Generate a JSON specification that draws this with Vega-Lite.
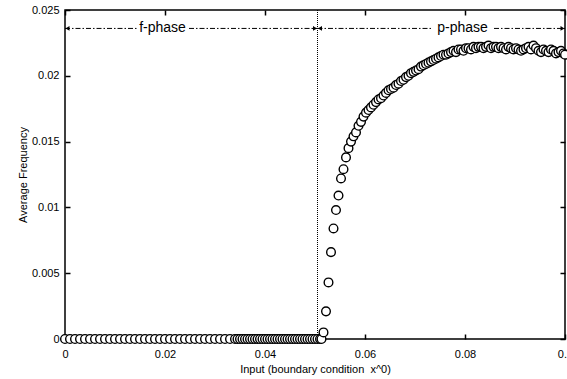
{
  "$schema": "https://vega.github.io/schema/vega-lite/v6.json",
  "width": 500,
  "height": 329,
  "autosize": {"type": "none"},
  "padding": {"left": 65, "top": 10, "right": 2, "bottom": 40},
  "background": "white",
  "config": {
    "font": "Liberation Sans",
    "view": {"stroke": "black", "strokeWidth": 1.5},
    "axis": {"grid": false, "domain": false, "offset": -5, "tickSize": 5, "labelFlush": false, "labelOverlap": false, "tickColor": "black", "tickWidth": 1.5, "labelColor": "black", "titleColor": "black", "labelFontSize": 11, "titleFontSize": 11, "titleFontWeight": "normal", "labelFont": "Liberation Sans", "titleFont": "Liberation Sans"}
  },
  "datasets": {
    "pts": [
      {"x":0,"y":0},{"x":0.001,"y":0},{"x":0.002,"y":0},{"x":0.003,"y":0},{"x":0.004,"y":0},{"x":0.005,"y":0},{"x":0.006,"y":0},{"x":0.007,"y":0},{"x":0.008,"y":0},{"x":0.009,"y":0},
      {"x":0.01,"y":0},{"x":0.011,"y":0},{"x":0.012,"y":0},{"x":0.013,"y":0},{"x":0.014,"y":0},{"x":0.015,"y":0},{"x":0.016,"y":0},{"x":0.017,"y":0},{"x":0.018,"y":0},{"x":0.019,"y":0},
      {"x":0.02,"y":0},{"x":0.021,"y":0},{"x":0.022,"y":0},{"x":0.023,"y":0},{"x":0.024,"y":0},{"x":0.025,"y":0},{"x":0.026,"y":0},{"x":0.027,"y":0},{"x":0.028,"y":0},{"x":0.029,"y":0},
      {"x":0.03,"y":0},{"x":0.031,"y":0},{"x":0.032,"y":0},{"x":0.033,"y":0},{"x":0.034,"y":0},
      {"x":0.0345,"y":0},{"x":0.035,"y":0},{"x":0.0355,"y":0},{"x":0.036,"y":0},{"x":0.0365,"y":0},{"x":0.037,"y":0},{"x":0.0375,"y":0},{"x":0.038,"y":0},
      {"x":0.0385,"y":0},{"x":0.039,"y":0},{"x":0.0395,"y":0},{"x":0.04,"y":0},{"x":0.0405,"y":0},{"x":0.041,"y":0},{"x":0.0415,"y":0},{"x":0.042,"y":0},
      {"x":0.0425,"y":0},{"x":0.043,"y":0},{"x":0.0435,"y":0},{"x":0.044,"y":0},{"x":0.0445,"y":0},{"x":0.045,"y":0},{"x":0.0455,"y":0},{"x":0.046,"y":0},
      {"x":0.0465,"y":0},{"x":0.047,"y":0},{"x":0.0475,"y":0},{"x":0.048,"y":0},{"x":0.0485,"y":0},{"x":0.049,"y":0},{"x":0.0495,"y":0},{"x":0.05,"y":0},
      {"x":0.0505,"y":0},{"x":0.051,"y":0},{"x":0.0513,"y":0},
      {"x":0.0517,"y":0.0005},{"x":0.0522,"y":0.0021},{"x":0.0527,"y":0.0043},{"x":0.0532,"y":0.0066},{"x":0.0537,"y":0.0084},{"x":0.0542,"y":0.0098},{"x":0.0547,"y":0.0109},{"x":0.0552,"y":0.0122},
      {"x":0.0557,"y":0.0129},{"x":0.0562,"y":0.0138},{"x":0.0567,"y":0.0145},{"x":0.0572,"y":0.015},{"x":0.0577,"y":0.0154},{"x":0.0582,"y":0.0157},{"x":0.0587,"y":0.0162},{"x":0.0592,"y":0.0165},
      {"x":0.0597,"y":0.0169},{"x":0.0602,"y":0.0172},{"x":0.0607,"y":0.0174},{"x":0.0612,"y":0.0176},{"x":0.0617,"y":0.0178},{"x":0.0622,"y":0.018},{"x":0.0627,"y":0.0182},{"x":0.0632,"y":0.0183},
      {"x":0.0637,"y":0.0185},{"x":0.0642,"y":0.0187},{"x":0.0647,"y":0.0189},{"x":0.0652,"y":0.019},{"x":0.0657,"y":0.0191},{"x":0.0662,"y":0.0193},{"x":0.0667,"y":0.0194},{"x":0.0672,"y":0.0196},
      {"x":0.0677,"y":0.0197},{"x":0.0682,"y":0.0199},{"x":0.0687,"y":0.02},{"x":0.0692,"y":0.0202},{"x":0.0697,"y":0.0203},{"x":0.0702,"y":0.0204},{"x":0.0707,"y":0.0205},{"x":0.0712,"y":0.0207},
      {"x":0.0717,"y":0.0208},{"x":0.0722,"y":0.0209},{"x":0.0727,"y":0.021},{"x":0.0732,"y":0.0211},{"x":0.0737,"y":0.0212},{"x":0.0742,"y":0.0213},{"x":0.0747,"y":0.0214},{"x":0.0752,"y":0.0215},
      {"x":0.0757,"y":0.0216},{"x":0.0762,"y":0.0216},{"x":0.0767,"y":0.0217},{"x":0.0772,"y":0.0218},{"x":0.0777,"y":0.0219},{"x":0.0782,"y":0.0218},{"x":0.0787,"y":0.022},{"x":0.0792,"y":0.022},
      {"x":0.0797,"y":0.0219},{"x":0.0802,"y":0.0221},{"x":0.0807,"y":0.0221},{"x":0.0812,"y":0.022},{"x":0.0817,"y":0.0222},{"x":0.0822,"y":0.0221},{"x":0.0827,"y":0.0222},{"x":0.0832,"y":0.0222},
      {"x":0.0837,"y":0.0221},{"x":0.0842,"y":0.0222},{"x":0.0847,"y":0.0223},{"x":0.0852,"y":0.0221},{"x":0.0857,"y":0.0222},{"x":0.0862,"y":0.0222},{"x":0.0867,"y":0.0221},{"x":0.0872,"y":0.0222},
      {"x":0.0877,"y":0.0221},{"x":0.0882,"y":0.022},{"x":0.0887,"y":0.0222},{"x":0.0892,"y":0.0221},{"x":0.0897,"y":0.022},{"x":0.0902,"y":0.0221},{"x":0.0907,"y":0.022},{"x":0.0912,"y":0.0219},
      {"x":0.0917,"y":0.022},{"x":0.0922,"y":0.0221},{"x":0.0927,"y":0.0222},{"x":0.0932,"y":0.022},{"x":0.0937,"y":0.0223},{"x":0.0942,"y":0.0221},{"x":0.0947,"y":0.0219},{"x":0.0952,"y":0.0218},
      {"x":0.0957,"y":0.022},{"x":0.0962,"y":0.0219},{"x":0.0967,"y":0.0218},{"x":0.0972,"y":0.022},{"x":0.0977,"y":0.0219},{"x":0.0982,"y":0.0217},{"x":0.0987,"y":0.0218},{"x":0.0992,"y":0.0219},
      {"x":0.0997,"y":0.0217},{"x":0.1,"y":0.0216}
    ],
    "boundary": [{"x": 0.0505, "y": 0, "y2": 0.025}],
    "segs": [
      {"x": 0, "x2": 0.0143, "y": 0.0236},
      {"x": 0.0248, "x2": 0.0505, "y": 0.0236},
      {"x": 0.0505, "x2": 0.0732, "y": 0.0236},
      {"x": 0.0858, "x2": 0.1, "y": 0.0236}
    ],
    "headsL": [{"x": 0, "y": 0.0236}, {"x": 0.0505, "y": 0.0236}],
    "headsR": [{"x": 0.0505, "y": 0.0236}, {"x": 0.1, "y": 0.0236}],
    "labels": [{"x": 0.0195, "y": 0.0236, "t": "f-phase"}, {"x": 0.0795, "y": 0.0236, "t": "p-phase"}]
  },
  "resolve": {"axis": {"x": "independent", "y": "independent"}},
  "layer": [
    {
      "data": {"name": "boundary"},
      "mark": {"type": "rule", "color": "black", "strokeWidth": 1, "strokeDash": [1, 1]},
      "encoding": {
        "x": {"field": "x", "type": "quantitative", "scale": {"domain": [0, 0.1], "nice": false}, "axis": {"orient": "top", "values": [0, 0.02, 0.04, 0.06, 0.08, 0.1], "labels": false, "title": null}},
        "y": {"field": "y", "type": "quantitative", "scale": {"domain": [0, 0.025], "nice": false}, "axis": {"orient": "right", "values": [0, 0.005, 0.01, 0.015, 0.02, 0.025], "labels": false, "title": null}},
        "y2": {"field": "y2"}
      }
    },
    {
      "data": {"name": "pts"},
      "mark": {"type": "point", "shape": "circle", "filled": true, "fill": "white", "stroke": "black", "strokeWidth": 1.4, "size": 75, "opacity": 1},
      "encoding": {
        "x": {"field": "x", "type": "quantitative", "scale": {"domain": [0, 0.1], "nice": false}, "axis": {"orient": "bottom", "values": [0, 0.02, 0.04, 0.06, 0.08, 0.1], "labelExpr": "'' + datum.value", "labelPadding": 9, "title": "Input (boundary condition\u00a0 x^0)", "titlePadding": 4}},
        "y": {"field": "y", "type": "quantitative", "scale": {"domain": [0, 0.025], "nice": false}, "axis": {"orient": "left", "values": [0, 0.005, 0.01, 0.015, 0.02, 0.025], "labelExpr": "'' + datum.value", "labelPadding": 6, "title": "Average Frequency", "titlePadding": 3}}
      }
    },
    {
      "data": {"name": "segs"},
      "mark": {"type": "rule", "color": "black", "strokeWidth": 1, "strokeDash": [5, 2, 1.5, 2]},
      "encoding": {
        "x": {"field": "x", "type": "quantitative", "axis": null},
        "x2": {"field": "x2"},
        "y": {"field": "y", "type": "quantitative", "axis": null}
      }
    },
    {
      "data": {"name": "headsL"},
      "mark": {"type": "point", "shape": "triangle-left", "filled": true, "color": "black", "size": 22, "xOffset": 2.5, "opacity": 1},
      "encoding": {
        "x": {"field": "x", "type": "quantitative", "axis": null},
        "y": {"field": "y", "type": "quantitative", "axis": null}
      }
    },
    {
      "data": {"name": "headsR"},
      "mark": {"type": "point", "shape": "triangle-right", "filled": true, "color": "black", "size": 22, "xOffset": -2.5, "opacity": 1},
      "encoding": {
        "x": {"field": "x", "type": "quantitative", "axis": null},
        "y": {"field": "y", "type": "quantitative", "axis": null}
      }
    },
    {
      "data": {"name": "labels"},
      "mark": {"type": "text", "fontSize": 14, "font": "Liberation Sans", "color": "black", "baseline": "middle", "align": "center"},
      "encoding": {
        "x": {"field": "x", "type": "quantitative", "axis": null},
        "y": {"field": "y", "type": "quantitative", "axis": null},
        "text": {"field": "t"}
      }
    }
  ]
}
